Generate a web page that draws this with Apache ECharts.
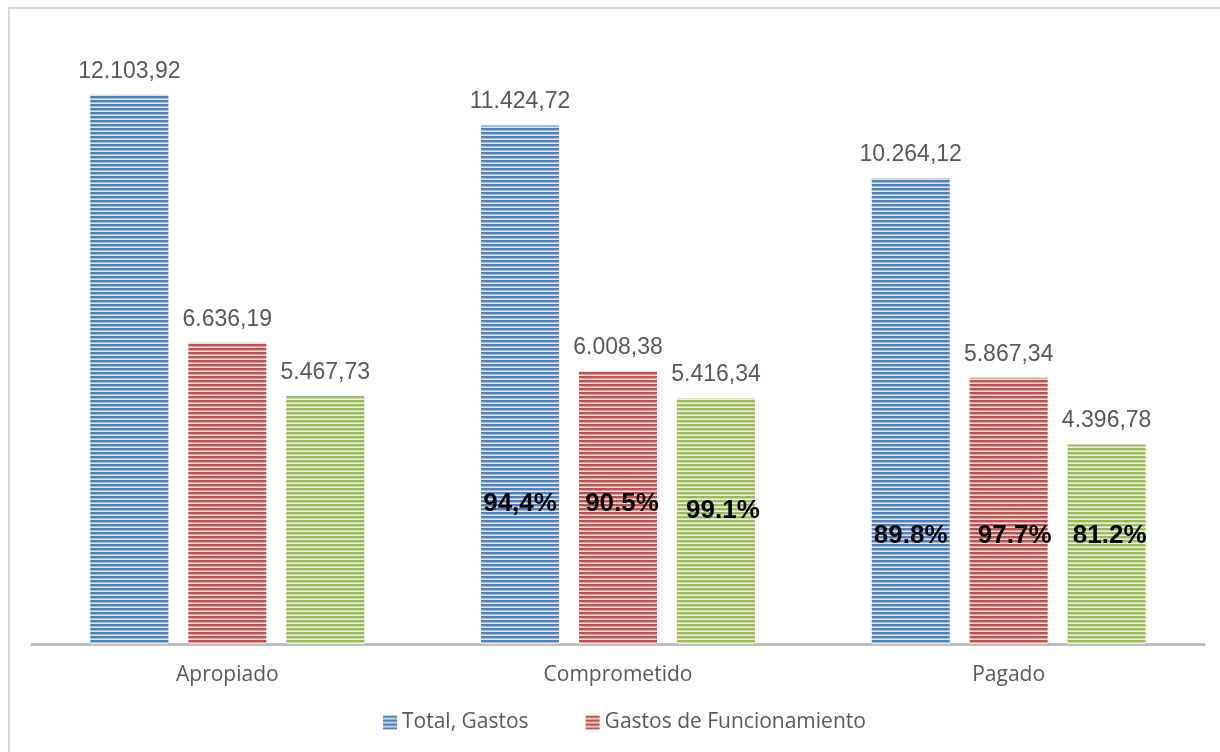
<!DOCTYPE html>
<html>
<head>
<meta charset="utf-8">
<script src="https://cdn.jsdelivr.net/npm/echarts@6/dist/echarts.min.js"></script>
<style>
html,body{margin:0;padding:0;background:#fff;}
#chart{width:1220px;height:752px;}
</style>
</head>
<body>
<div id="chart"></div>
<script>
// ---- data ----
var categories = ['Apropiado', 'Comprometido', 'Pagado'];
var seriesNames = ['Total, Gastos', 'Gastos de Funcionamiento', 'Gastos de Inversión'];
var totalGastos = [12103.92, 11424.72, 10264.12];
var gastosFuncionamiento = [6636.19, 6008.38, 5867.34];
var gastosInversion = [5467.73, 5416.34, 4396.78];
var pctTotal = [null, '94,4%', '89.8%'];
var pctFuncionamiento = [null, '90.5%', '97.7%'];
var pctInversion = [null, '99.1%', '81.2%'];
var legendNames = ['Total, Gastos', 'Gastos de Funcionamiento'];

// ---- styles ----
function stripe(dark, light) {
  var c = document.createElement('canvas');
  c.width = 8; c.height = 4;
  var ctx = c.getContext('2d');
  ctx.fillStyle = light; ctx.fillRect(0, 0, 8, 4);
  ctx.fillStyle = dark; ctx.fillRect(0, 0, 8, 2.4);
  return { image: c, repeat: 'repeat' };
}
var palettes = [
  { dark: '#4F81BD', light: '#DCE6F2' },
  { dark: '#C0504D', light: '#F2DCDB' },
  { dark: '#9BBB59', light: '#EBF1DE' }
];
// label offsets for percent labels (style only)
var pctOffsets = [
  [null, [0, -140], [0, -108]],
  [null, [4, -140], [6, -108]],
  [null, [7, -133], [3, -108]]
];

function fmt(v) {
  var s = v.toFixed(2).split('.');
  return s[0].replace(/\B(?=(\d{3})+(?!\d))/g, '.') + ',' + s[1];
}

var valuesList = [totalGastos, gastosFuncionamiento, gastosInversion];
var pctList = [pctTotal, pctFuncionamiento, pctInversion];

var series = valuesList.map(function (vals, si) {
  var mp = [];
  pctList[si].forEach(function (p, ci) {
    if (p) {
      mp.push({
        coord: [ci, 0],
        value: p,
        label: { offset: pctOffsets[si][ci] }
      });
    }
  });
  return {
    name: seriesNames[si],
    type: 'bar',
    data: vals,
    barWidth: 78,
    barGap: '25.6%',
    itemStyle: { color: stripe(palettes[si].dark, palettes[si].light) },
    label: {
      show: true,
      position: 'top',
      distance: 12,
      color: '#595959',
      fontFamily: 'Liberation Sans, Arial, sans-serif',
      fontSize: 23,
      formatter: function (p) { return fmt(p.value); }
    },
    markPoint: {
      symbol: 'rect',
      symbolSize: 0,
      silent: true,
      label: {
        show: true,
        position: 'inside',
        color: '#000',
        fontWeight: 'bold',
        fontFamily: 'Liberation Sans, Arial, sans-serif',
        fontSize: 26,
        formatter: function (p) { return p.value; }
      },
      data: mp
    },
    emphasis: { disabled: true }
  };
});

var chart = echarts.init(document.getElementById('chart'));
chart.setOption({
  animation: false,
  backgroundColor: '#fff',
  color: palettes.map(function (p) { return p.dark; }),
  graphic: [{
    type: 'rect',
    shape: { x: 9, y: 8, width: 1400, height: 900 },
    style: { fill: 'none', stroke: '#D9D9D9', lineWidth: 2 },
    silent: true,
    z: -10
  }],
  legend: {
    data: legendNames,
    icon: 'rect',
    left: 383,
    top: 712,
    padding: 0,
    itemWidth: 14,
    itemHeight: 14,
    itemGap: 57,
    textStyle: { color: '#595959', fontSize: 21, fontFamily: 'Open Sans, Noto Sans, sans-serif' }
  },
  grid: { left: 32, right: 16, top: 54, bottom: 108, containLabel: false },
  xAxis: {
    type: 'category',
    data: categories,
    axisLine: { show: true, lineStyle: { color: '#BFBFBF', width: 3 } },
    axisTick: { show: false },
    axisLabel: { color: '#595959', fontSize: 21, fontFamily: 'Open Sans, Noto Sans, sans-serif', margin: 21 }
  },
  yAxis: {
    type: 'value',
    min: 0,
    max: 13000,
    show: false,
    splitLine: { show: false }
  },
  series: series
});
</script>
</body>
</html>
